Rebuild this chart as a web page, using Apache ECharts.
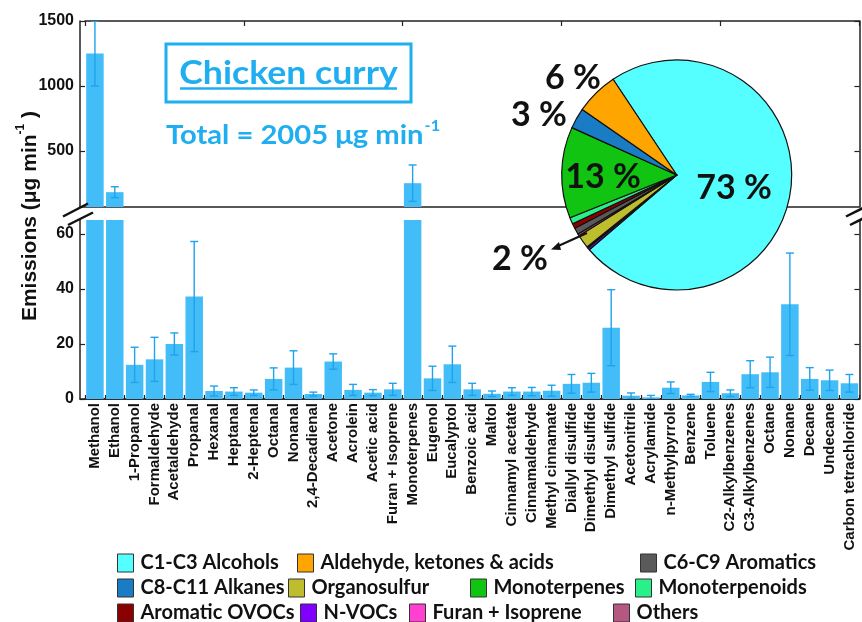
<!DOCTYPE html>
<html><head><meta charset="utf-8">
<script src="https://cdn.jsdelivr.net/npm/echarts@6/dist/echarts.min.js"></script>
<style>html,body{margin:0;padding:0;background:#fff}#c{width:862px;height:622px}</style>
</head><body><div id="c"></div>
<script>
// ---------------- data ----------------
const categories = ['Methanol','Ethanol','1-Propanol','Formaldehyde','Acetaldehyde','Propanal','Hexanal','Heptanal','2-Heptenal','Octanal','Nonanal','2,4-Decadienal','Acetone','Acrolein','Acetic acid','Furan + Isoprene','Monoterpenes','Eugenol','Eucalyptol','Benzoic acid','Maltol','Cinnamyl acetate','Cinnamaldehyde','Methyl cinnamate','Diallyl disulfide','Dimethyl disulfide','Dimethyl sulfide','Acetonitrile','Acrylamide','n-Methylpyrrole','Benzene','Toluene','C2-Alkylbenzenes','C3-Alkylbenzenes','Octane','Nonane','Decane','Undecane','Carbon tetrachloride'];
const emissions = [1250,184,12.4,14.4,20,37.2,2.9,2.7,2.3,7.3,11.4,1.8,13.6,3.3,2.3,3.5,253,7.5,12.6,3.5,1.9,2.7,2.7,3.0,5.5,5.9,25.9,1.2,0.6,4.1,1.3,6.2,2.1,9.0,9.7,34.4,7.3,6.8,5.7];
const errors = [250,42,6.4,8,4,20,1.8,1.4,1.0,4,6.1,0.7,2.8,2.0,1.1,2.2,140,4.4,6.6,2.2,1.0,1.4,1.5,2.0,3.4,3.4,13.8,1.0,0.7,2.1,0.4,3.5,1.2,4.9,5.5,18.6,4.1,3.7,3.2];
const upperTicks = [500,1000,1500];
const lowerTicks = [0,20,40,60];
const groups = ['C1-C3 Alcohols','N-VOCs','Furan + Isoprene','Organosulfur','Others','C6-C9 Aromatics','Aromatic OVOCs','Monoterpenoids','Monoterpenes','C8-C11 Alkanes','Aldehyde, ketones & acids'];
const groupShares = [73.0,0.3,0.2,1.9,0.3,0.9,0.7,0.9,12.8,2.9,6.0];
const groupLabels = ['73 %','','','2 %','','','','','13 %','3 %','6 %'];
const totalText = 'Total = 2005 μg min';
const titleText = 'Chicken curry';

// ---------------- styles ----------------
const groupColors = ['#55FFFF','#7F00FF','#FF40D0','#BDBD2E','#B45882','#5A5A5A','#8B0000','#2AF08A','#11C411','#1A7CC4','#FFA500'];
const pieLabelPos = [[734,188],null,null,[520,259],null,null,null,null,[603,177],[539,115],[573,78]];
const legendRows = [
  [['C1-C3 Alcohols',117,553],['Aldehyde, ketones & acids',297,553],['C6-C9 Aromatics',640,553]],
  [['C8-C11 Alkanes',117,578],['Organosulfur',288,578],['Monoterpenes',470,578],['Monoterpenoids',635,578]],
  [['Aromatic OVOCs',117,603],['N-VOCs',300,603],['Furan + Isoprene',409,603],['Others',613,603]]
];
const BAR = '#42BDF8', ERR = '#1EA3EC', AX = '#222', BLUE = '#1FAEEF';
const SANS = 'Liberation Sans, Arial, sans-serif';

const chart = echarts.init(document.getElementById('c'), null, {renderer:'canvas'});

const G_LEFT = 85, G_W = 774.4, F_LEFT = 80, F_W = 779.4;
const grids = [
  {left:G_LEFT, width:G_W, top:21, height:186, outerBoundsMode:'none'},
  {left:G_LEFT, width:G_W, top:220, height:179, outerBoundsMode:'none'},
  {left:F_LEFT, width:F_W, top:21, height:186, outerBoundsMode:'none'},
  {left:F_LEFT, width:F_W, top:220, height:179, outerBoundsMode:'none'}
];
const axLine = {show:true, lineStyle:{color:AX, width:1.5}};
const xAxes = [
  {gridIndex:0, type:'category', data:categories, position:'top', axisLine:axLine,
   axisTick:{show:true, inside:true, length:5, lineStyle:{color:AX, width:1.2}}, axisLabel:{show:false}},
  {gridIndex:1, type:'category', data:categories, position:'bottom', axisLine:axLine,
   axisTick:{show:true, inside:true, length:4, lineStyle:{color:AX, width:1.2}},
   axisLabel:{show:true, interval:0, rotate:90, margin:4, fontFamily:SANS, fontWeight:'bold', fontSize:15, color:'#111'}},
  {gridIndex:2, type:'category', data:['f'], position:'top', axisLine:axLine, axisTick:{show:false}, axisLabel:{show:false}},
  {gridIndex:3, type:'category', data:['f'], position:'bottom', axisLine:axLine, axisTick:{show:false}, axisLabel:{show:false}}
];
function yAx(grid, pos, min, max, ticks, labels) {
  return {gridIndex:grid, type:'value', position:pos, min:min, max:max, offset: pos==='left'?5:0,
    splitLine:{show:false}, axisLine:axLine,
    axisTick:{show:true, inside:true, length:5, customValues:ticks, lineStyle:{color:AX, width:1.2}},
    axisLabel:{show:labels, customValues:ticks, margin:6, formatter:v=>String(v),
      fontFamily:SANS, fontWeight:'bold', fontSize:16, color:'#111'}};
}
const yAxes = [
  yAx(0,'left',70,1500,upperTicks,true),
  yAx(0,'right',70,1500,upperTicks,false),
  yAx(1,'left',0,65,lowerTicks,true),
  yAx(1,'right',0,65,lowerTicks,false),
  {gridIndex:2, type:'value', show:false},
  {gridIndex:3, type:'value', show:false}
];

const errData = emissions.map((v,i)=>[i, v - errors[i], v + errors[i]]);
function renderErr(params, api) {
  const x = api.value(0);
  const lo = api.coord([x, api.value(1)]);
  const hi = api.coord([x, api.value(2)]);
  const hw = 4;
  const st = {stroke:ERR, lineWidth:1.4};
  return {type:'group', children:[
    {type:'line', shape:{x1:lo[0], y1:lo[1], x2:hi[0], y2:hi[1]}, style:st},
    {type:'line', shape:{x1:hi[0]-hw, y1:hi[1], x2:hi[0]+hw, y2:hi[1]}, style:st},
    {type:'line', shape:{x1:lo[0]-hw, y1:lo[1], x2:lo[0]+hw, y2:lo[1]}, style:st}
  ]};
}
const barBase = {type:'bar', barCategoryGap:'12%', itemStyle:{color:BAR}, clip:true, silent:true, z:2};

const pieData = groups.map((g,i)=>({
  name:g, value:groupShares[i],
  itemStyle:{color:groupColors[i]},
  label:{show: groupLabels[i] !== '', formatter: groupLabels[i]}
}));

const legends = [];
legendRows.forEach(row => row.forEach(([name,x,y]) => {
  legends.push({data:[name], left:x, top:y, padding:0, itemWidth:16, itemHeight:18, itemGap:0,
    icon:'rect', selectedMode:false,
    itemStyle:{borderColor:'#333', borderWidth:1},
    textStyle:{fontFamily:'Lato', fontWeight:'bold', fontSize:20, color:'#111', padding:[0,0,0,2]}});
}));

const option = {
  animation:false,
  backgroundColor:'#fff',
  grid:grids, xAxis:xAxes, yAxis:yAxes,
  legend:legends,
  series:[
    Object.assign({}, barBase, {xAxisIndex:0, yAxisIndex:0, data:emissions}),
    Object.assign({}, barBase, {xAxisIndex:1, yAxisIndex:2, data:emissions}),
    {type:'custom', xAxisIndex:0, yAxisIndex:0, data:errData, renderItem:renderErr, clip:true, silent:true, z:3},
    {type:'custom', xAxisIndex:1, yAxisIndex:2, data:errData, renderItem:renderErr, clip:true, silent:true, z:3},
    {type:'pie', center:[676.7,175], radius:115, startAngle:123.6, clockwise:true, z:10,
     silent:true, avoidLabelOverlap:false,
     itemStyle:{borderColor:'#111', borderWidth:1.2},
     label:{position:'inside', fontFamily:'Lato', fontWeight:'bold', fontSize:34, color:'#111'},
     labelLine:{show:false},
     labelLayout:function(p){ const q = pieLabelPos[p.dataIndex]; return q ? {x:q[0], y:q[1], align:'center', verticalAlign:'middle'} : {}; },
     data:pieData}
  ],
  graphic:[
    {type:'rect', shape:{x:166, y:44, width:245, height:58}, style:{fill:'none', stroke:BLUE, lineWidth:3}, z:20},
    {type:'text', x:288.5, y:73, scaleX:1.08, style:{text:titleText, fill:BLUE, font:'bold 33px Lato', align:'center', verticalAlign:'middle'}, z:20},
    {type:'line', shape:{x1:180, y1:88.5, x2:397, y2:88.5}, style:{stroke:BLUE, lineWidth:2.5}, z:20},
    {type:'text', x:166, y:133, scaleX:1.08, z:20, style:{text:'{a|'+totalText+'}{s|-1}', fill:BLUE, align:'left', verticalAlign:'middle',
      rich:{a:{font:'bold 27px Lato', fill:BLUE, lineHeight:32, verticalAlign:'bottom'},
            s:{font:'bold 15px Lato', fill:BLUE, verticalAlign:'top', padding:[2,0,0,1]}}}},
    {type:'text', x:28, y:216, rotation:Math.PI/2, z:20, style:{text:'{a|Emissions (μg min}{s|-1}{a| )}', align:'center', verticalAlign:'middle',
      rich:{a:{fontFamily:SANS, fontWeight:'bold', fontSize:21, fill:'#111', lineHeight:26, verticalAlign:'bottom'},
            s:{fontFamily:SANS, fontWeight:'bold', fontSize:12, fill:'#111', verticalAlign:'top'}}}},
    // axis break marks
    {type:'line', shape:{x1:63, y1:216.5, x2:88, y2:203.5}, style:{stroke:'#111', lineWidth:2.5}, z:20},
    {type:'line', shape:{x1:68, y1:225, x2:93, y2:212.5}, style:{stroke:'#111', lineWidth:2.5}, z:20},
    {type:'line', shape:{x1:846, y1:216.5, x2:863, y2:208}, style:{stroke:'#111', lineWidth:2.5}, z:20},
    {type:'line', shape:{x1:850, y1:225, x2:863, y2:218.5}, style:{stroke:'#111', lineWidth:2.5}, z:20},
    // arrow to the 2 % label
    {type:'line', shape:{x1:587, y1:233, x2:556, y2:247}, style:{stroke:'#111', lineWidth:2}, z:20},
    {type:'polygon', shape:{points:[[551,249.5],[559,242],[561,250]]}, style:{fill:'#111'}, z:20}
  ]
};
chart.setOption(option);
</script></body></html>
